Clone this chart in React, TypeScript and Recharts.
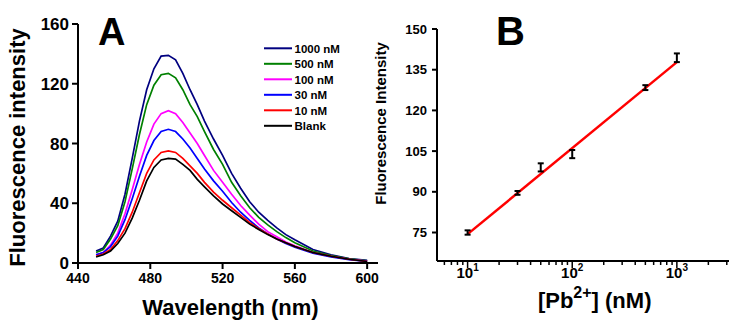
import React from 'react';
import { LineChart, Line, XAxis, YAxis, ComposedChart, Scatter, ErrorBar } from 'recharts';

// ---------- Panel A data ----------
const wavelengths = [450, 454, 458, 462, 466, 470, 474, 478, 482, 486, 490, 494, 498, 502, 506, 510, 515, 520, 525, 530, 535, 540, 545, 550, 555, 560, 570, 580, 590, 600];
const conc1000 = [8, 10, 18, 28, 46, 70, 95, 116, 130, 138.5, 139, 136, 127, 116, 106, 95, 83, 72, 60, 50, 41, 34, 28.5, 23.5, 19, 15.5, 9, 5.5, 3, 1.8];
const conc500 = [7, 9, 16, 25, 41, 63, 86, 106, 119, 126, 127, 124, 116, 106, 98, 88, 76, 66, 54, 45, 37, 30.5, 25.5, 21, 17, 13.5, 8, 5, 2.8, 1.5];
const conc100 = [5.5, 7, 12, 20, 33, 49, 66, 81, 93, 100, 102, 100, 94, 87, 80, 72, 62, 54, 46, 38.5, 32, 26, 21, 17.5, 14, 11.5, 7, 4.5, 2.5, 1.2];
const conc30 = [5.5, 7, 11, 18, 29, 43, 58, 72, 82, 88, 89.5, 88, 83, 77, 70, 63, 55, 48, 40.5, 34, 28.5, 23.5, 19.5, 16, 13, 10.5, 6.5, 4, 2.2, 1];
const conc10 = [4.5, 6, 9, 15, 23, 34, 47, 60, 69, 74, 75, 74, 70, 65, 60, 54, 47.5, 42, 37, 32, 27, 23, 19.5, 16, 13.5, 11, 7, 4.5, 2.5, 1];
const blank = [4, 5.5, 8, 13, 20, 30, 42, 55, 64, 69, 70, 69.5, 66, 62, 56, 51, 45, 39.5, 35, 30.5, 26, 22.5, 19, 16, 13.5, 11, 7, 4.5, 2.5, 1];
const ticksA_X = [440, 480, 520, 560, 600];
const ticksA_Y = [0, 40, 80, 120, 160];

const seriesA = [
  { key: 'c1000', name: '1000 nM', color: '#000080', values: conc1000 },
  { key: 'c500', name: '500 nM', color: '#008000', values: conc500 },
  { key: 'c100', name: '100 nM', color: '#FF00FF', values: conc100 },
  { key: 'c30', name: '30 nM', color: '#0000FF', values: conc30 },
  { key: 'c10', name: '10 nM', color: '#FF0000', values: conc10 },
  { key: 'blank', name: 'Blank', color: '#000000', values: blank },
];

const dataA = wavelengths.map((w, i) => {
  const row: Record<string, number> = { wl: w };
  seriesA.forEach((s) => { row[s.key] = s.values[i]; });
  return row;
});

// ---------- Panel B data ----------
const concentrations = [10, 30, 50, 100, 500, 1000];
const intensities = [75.0, 89.6, 99.0, 103.9, 128.4, 139.4];
const errors = [0.8, 0.7, 1.5, 1.5, 0.9, 1.6];
const fitConc = [10, 1000];
const fitIntensity = [74.4, 137.8];
const ticksB_Y = [75, 90, 105, 120, 135, 150];
const ticksB_X = [6, 7, 8, 9, 10, 20, 30, 40, 50, 60, 70, 80, 90, 100, 200, 300, 400, 500, 600, 700, 800, 900, 1000, 2000, 3000];
const majorB = [10, 100, 1000];

const pointsB = concentrations.map((c, i) => ({ x: c, y: intensities[i], err: errors[i] }));
const fitB = fitConc.map((c, i) => ({ x: c, y: fitIntensity[i] }));

const FONT = '"Liberation Sans", Arial, Helvetica, sans-serif';

const LogTick = (props: any) => {
  const { x, y, payload } = props;
  const v = payload.value;
  const major = majorB.includes(v);
  const exp = Math.round(Math.log10(v));
  return (
    <g>
      <line x1={x} y1={y} x2={x} y2={y + (major ? 7 : 4)} stroke="#000" strokeWidth={1.5} />
      {major && (
        <text x={x} y={y + 17} textAnchor="middle" fontFamily={FONT} fontWeight="bold" fontSize={15} fill="#000">
          <tspan>10</tspan>
          <tspan dy={-7} fontSize={10}>{exp}</tspan>
        </text>
      )}
    </g>
  );
};

const EmptyShape = () => <g />;

export default function App() {
  return (
    <div style={{ position: 'absolute', left: 0, top: 0, width: 729, height: 320, background: '#fff', overflow: 'hidden' }}>
      <div style={{ position: 'absolute', left: 0, top: 0 }}>
        <LineChart width={380} height={320} data={dataA} margin={{ top: 24, right: 2, left: 18, bottom: 27 }}>
          <XAxis
            dataKey="wl"
            type="number"
            domain={[440, 606]}
            ticks={ticksA_X}
            allowDataOverflow
            height={30}
            axisLine={{ stroke: '#000', strokeWidth: 2 }}
            tickLine={{ stroke: '#000', strokeWidth: 2 }}
            tickSize={6}
            tickMargin={4}
            tick={{ fill: '#000', fontSize: 14, fontWeight: 'bold', fontFamily: FONT }}
          />
          <YAxis
            type="number"
            domain={[0, 160]}
            ticks={ticksA_Y}
            width={60}
            axisLine={{ stroke: '#000', strokeWidth: 2 }}
            tickLine={{ stroke: '#000', strokeWidth: 2 }}
            tickSize={6}
            tickMargin={3}
            tick={{ fill: '#000', fontSize: 17, fontWeight: 'bold', fontFamily: FONT }}
          />
          {seriesA.map((s) => (
            <Line
              key={s.key}
              dataKey={s.key}
              stroke={s.color}
              strokeWidth={1.7}
              dot={false}
              type="linear"
              isAnimationActive={false}
            />
          ))}
        </LineChart>
      </div>
      <div style={{ position: 'absolute', left: 360, top: 0 }}>
        <ComposedChart width={369} height={320} margin={{ top: 29, right: 0, left: 17, bottom: 29 }}>
          <XAxis
            dataKey="x"
            type="number"
            scale="log"
            domain={[5.1, 3150]}
            allowDataOverflow
            ticks={ticksB_X}
            height={30}
            axisLine={{ stroke: '#000', strokeWidth: 2 }}
            tickLine={false}
            tickSize={0}
            tickMargin={0}
            tick={<LogTick />}
            interval={0}
          />
          <YAxis
            type="number"
            domain={[64.5, 150]}
            ticks={ticksB_Y}
            allowDataOverflow
            width={60}
            axisLine={{ stroke: '#000', strokeWidth: 2 }}
            tickLine={{ stroke: '#000', strokeWidth: 2 }}
            tickSize={5}
            tickMargin={5}
            tick={{ fill: '#000', fontSize: 13, fontWeight: 'bold', fontFamily: FONT }}
          />
          <Line
            data={fitB}
            dataKey="y"
            stroke="#FF0000"
            strokeWidth={2.5}
            dot={false}
            type="linear"
            isAnimationActive={false}
          />
          <Scatter data={pointsB} dataKey="y" shape={<EmptyShape />} isAnimationActive={false}>
            <ErrorBar dataKey="err" direction="y" width={3} stroke="#000" strokeWidth={2} />
          </Scatter>
        </ComposedChart>
      </div>
      <svg width={729} height={320} style={{ position: 'absolute', left: 0, top: 0, pointerEvents: 'none' }}>
        <text x={98} y={45} fontFamily={FONT} fontWeight="bold" fontSize={38} fill="#000">A</text>
        <text x={496} y={45} fontFamily={FONT} fontWeight="bold" fontSize={40} fill="#000">B</text>
        <text transform="translate(25,147.5) rotate(-90)" textAnchor="middle" fontFamily={FONT} fontWeight="bold" fontSize={22} fill="#000">Fluorescence intensity</text>
        <text x={230.5} y={315} textAnchor="middle" fontFamily={FONT} fontWeight="bold" fontSize={22} fill="#000">Wavelength (nm)</text>
        <text transform="translate(386,123.5) rotate(-90)" textAnchor="middle" fontFamily={FONT} fontWeight="bold" fontSize={15} fill="#000">Fluorescence Intensity</text>
        <text x={594.7} y={308} textAnchor="middle" fontFamily={FONT} fontWeight="bold" fontSize={22} fill="#000">
          <tspan>[Pb</tspan>
          <tspan dy={-10} fontSize={16}>2+</tspan>
          <tspan dy={10}>] (nM)</tspan>
        </text>
        {seriesA.map((s, i) => (
          <g key={s.key}>
            <line x1={264} x2={292} y1={48.3 + i * 15.5} y2={48.3 + i * 15.5} stroke={s.color} strokeWidth={2} />
            <text x={294.5} y={48.3 + i * 15.5 + 4.2} fontFamily={FONT} fontWeight="bold" fontSize={11.5} fill="#000">{s.name}</text>
          </g>
        ))}
      </svg>
    </div>
  );
}
